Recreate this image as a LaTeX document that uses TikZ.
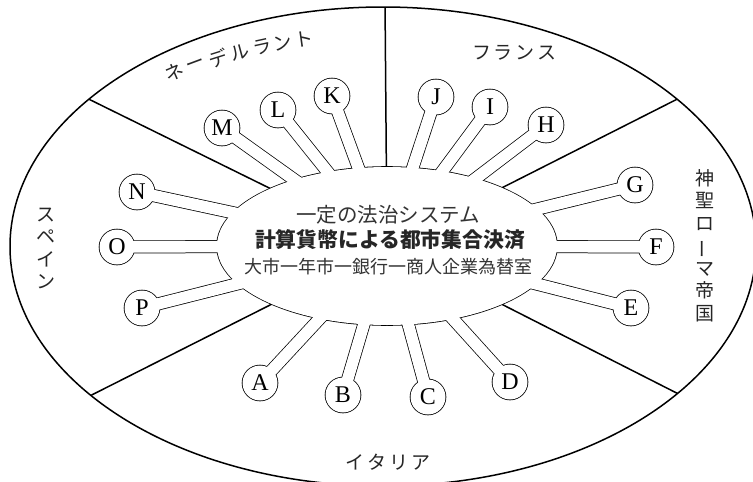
\documentclass[tikz,border=0pt]{standalone}
\usepackage{fontspec}
\newfontfamily\jp{Noto Sans CJK JP}
\newfontfamily\lettersfont{Liberation Serif}
\usetikzlibrary{calc}
\pgfdeclarelayer{bg}
\pgfdeclarelayer{mid}
\pgfsetlayers{bg,mid,main}
\begin{document}
\begin{tikzpicture}[x=1pt,y=-1pt,
  outerline/.style={line width=1.5pt},
  divline/.style={line width=1.5pt},
  lettercirc/.style={circle, minimum size=35pt, inner sep=0pt, font=\lettersfont\fontsize{24}{24}\selectfont},
  region/.style={font=\jp\fontsize{19}{22.5}\selectfont, text=black!85, inner sep=0pt},
  centertext/.style={font=\jp\fontsize{20.5}{22}\selectfont, text=black!80, inner sep=0pt},
  stemout/.style={line width=13pt},
  stemin/.style={white, line width=11.5pt}]
\useasboundingbox (0,0) rectangle (753,482);
\coordinate (ctr) at (387,246);
\coordinate (oc) at (383,246.5);
% letter circles
\foreach \n/\x/\y in {A/260/383, B/343/395, C/428/397, D/510/382, E/631/308, F/656/247,
  G/635/185, H/546/125, I/490/107, J/436/97, K/332/96, L/278/110, M/222/128,
  N/137/192, O/117/247, P/142/308}
  \node[lettercirc] (c\n) at (\x,\y) {\n};
% divider end points (outside the outer ellipse, clipped)
\coordinate (o1) at (385,0);
\coordinate (o2) at (54,82);
\coordinate (o3) at (56,413);
\coordinate (o4) at (713,81);
\coordinate (o5) at (716,413);
\begin{pgfonlayer}{bg}
  \begin{scope}
    \clip (oc) ellipse [x radius=373, y radius=239.5];
    \foreach \o in {o1,o2,o3,o4,o5} \draw[divline] (\o) -- (ctr);
  \end{scope}
  \draw[outerline] (oc) ellipse [x radius=373, y radius=239.5];
  % black outline pass
  \fill (ctr) ellipse [x radius=170.8, y radius=79.8];
  \foreach \n in {A,B,C,D,E,F,G,H,I,J,K,L,M,N,O,P} {
    \fill (c\n.center) circle (18.3);
    \draw[stemout] (c\n.center) -- (ctr);
  }
\end{pgfonlayer}
\begin{pgfonlayer}{mid}
  \fill[white] (ctr) ellipse [x radius=170, y radius=79];
  \foreach \n in {A,B,C,D,E,F,G,H,I,J,K,L,M,N,O,P} {
    \fill[white] (c\n.center) circle (17.5);
    \draw[stemin] (c\n.center) -- (ctr);
  }
\end{pgfonlayer}
% central text
\node[centertext] (t1) at (388,215) {一定の法治システム};
\node[centertext, font=\jp\bfseries\fontsize{20.8}{22}\selectfont, text=black!85] (t2) at (390,240) {計算貨幣による都市集合決済};
\node[centertext, font=\jp\fontsize{18}{20}\selectfont] (t3) at (388.5,267) {大市一年市一銀行一商人企業為替室};
% region labels
\foreach \c/\x/\y/\r [count=\i] in {ネ/174/72/23.5, ー/196/65/20.4, デ/218/58/17.6, ル/240/52/15, ラ/262/47/12.3, ン/283/43/10.2, ト/304/39/7.9}
  \node[region, rotate=\r] (nl\i) at (\x,\y) {\c};
\node[region] (fr) at (514.5,53) {フ\hspace{3pt}ラ\hspace{3pt}ン\hspace{3pt}ス};
\node[region] (it) at (388,462) {イ\hspace{2.7pt}タ\hspace{2.7pt}リ\hspace{2.7pt}ア};
\node[region, align=center] (hre) at (705,245.5) {神\\聖\\ロ\\\rotatebox[origin=c]{90}{ー}\\マ\\帝\\国};
\node[region, align=center] (es) at (46,248.5) {ス\\ペ\\イ\\ン};
\end{tikzpicture}
\end{document}
